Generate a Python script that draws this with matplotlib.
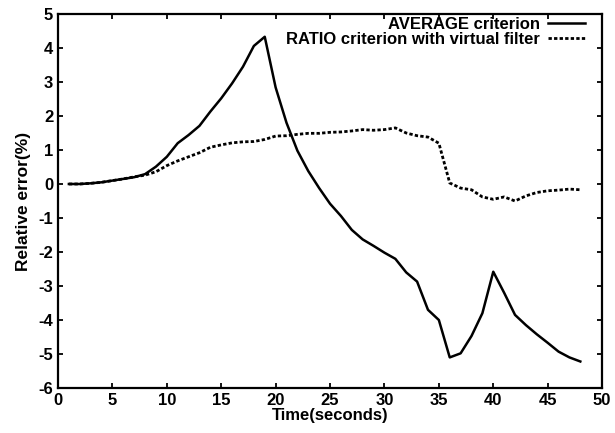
import matplotlib
matplotlib.use("Agg")
import matplotlib.pyplot as plt

# time axis (seconds)
t = list(range(1, 49))

# AVERAGE criterion (solid)
avg_err = [0.0, 0.0, 0.02, 0.05, 0.1, 0.15, 0.2, 0.29, 0.51, 0.8,
           1.2, 1.44, 1.71, 2.13, 2.52, 2.96, 3.45, 4.06, 4.33, 2.84,
           1.8, 0.98, 0.38, -0.12, -0.58, -0.94, -1.35, -1.63, -1.82, -2.02,
           -2.2, -2.6, -2.87, -3.7, -4.0, -5.1, -4.98, -4.47, -3.8, -2.58,
           -3.2, -3.85, -4.15, -4.42, -4.67, -4.93, -5.1, -5.22]

# RATIO criterion with virtual filter (dotted)
ratio_err = [0.0, 0.0, 0.02, 0.05, 0.1, 0.15, 0.21, 0.26, 0.36, 0.54,
             0.68, 0.8, 0.92, 1.08, 1.15, 1.21, 1.24, 1.25, 1.31, 1.41,
             1.42, 1.46, 1.49, 1.49, 1.52, 1.53, 1.56, 1.6, 1.58, 1.6,
             1.65, 1.5, 1.42, 1.38, 1.2, 0.03, -0.12, -0.17, -0.38, -0.45,
             -0.38, -0.5, -0.35, -0.25, -0.2, -0.18, -0.15, -0.17]

plt.rcParams['font.family'] = ['Liberation Sans', 'DejaVu Sans']
plt.rcParams['font.weight'] = 'bold'
plt.rcParams['axes.unicode_minus'] = False

fig = plt.figure(figsize=(6.15, 4.33), dpi=100)
ax = fig.add_axes([0.0943, 0.1039, 0.8847, 0.8638])

ax.plot(t, avg_err, color='black', lw=1.8, label='AVERAGE criterion')
ax.plot(t, ratio_err, color='black', lw=2.0, linestyle=(0, (1.2, 0.8)),
        label='RATIO criterion with virtual filter')

ax.set_xlim(0, 50)
ax.set_ylim(-6, 5)
ax.set_xticks(range(0, 51, 5))
ax.set_yticks(range(-6, 6))
ax.tick_params(direction='in', length=3.5, width=1.3, top=True, right=True,
               labelsize=12, pad=3.5)
for lab in ax.get_xticklabels() + ax.get_yticklabels():
    lab.set_fontweight('bold')
for sp in ax.spines.values():
    sp.set_linewidth(1.6)

ax.set_xlabel('Time(seconds)', fontsize=12, fontweight='bold', labelpad=0)
ax.set_ylabel('Relative error(%)', fontsize=12.5, fontweight='bold', labelpad=5)

leg = ax.legend(loc='upper right', bbox_to_anchor=(0.987, 1.02),
                frameon=False, markerfirst=False,
                handlelength=2.2, borderaxespad=0.2,
                labelspacing=0.0, handletextpad=0.5,
                prop={'weight': 'bold', 'size': 12})

fig.savefig('out.png', dpi=100)
